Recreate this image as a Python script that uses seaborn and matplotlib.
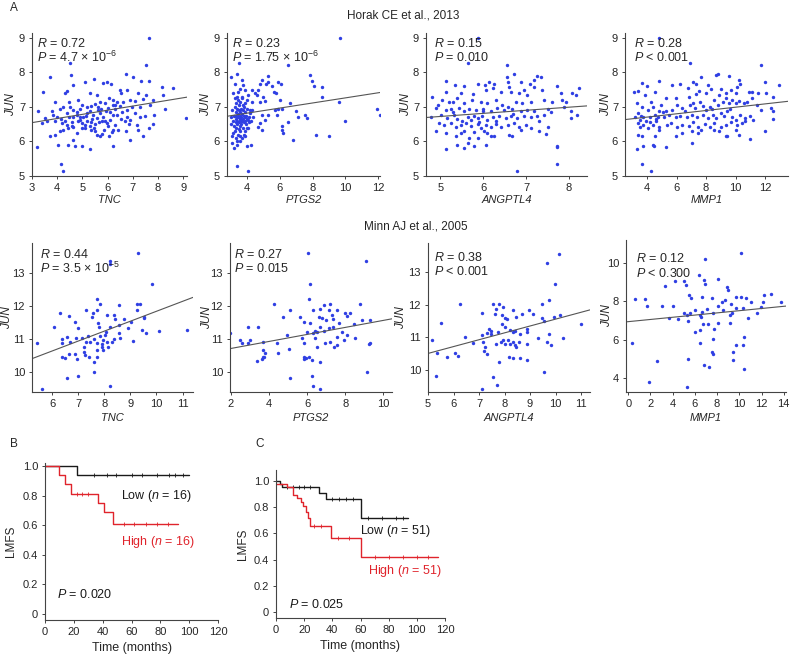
import matplotlib
matplotlib.use("Agg")
import matplotlib.pyplot as plt
import numpy as np
import pandas as pd
import seaborn as sns

# ---- data ----
horak_tnc = [
    (7.65, 9.0), (4.51, 8.28), (7.52, 8.2), (3.71, 7.87), (4.55, 7.92), (5.46, 7.81), (6.73, 7.95), (7.02, 7.87),
    (7.32, 7.75), (7.65, 7.75), (5.1, 7.73), (5.8, 7.68), (5.99, 7.73), (6.12, 7.66), (8.14, 7.58), (8.6, 7.54),
    (4.64, 7.63), (4.37, 7.46), (4.31, 7.39), (3.42, 7.44), (7.21, 7.39), (7.54, 7.34), (8.2, 7.34), (6.75, 7.49),
    (6.49, 7.49), (6.55, 7.39), (3.91, 7.15), (4.48, 7.15), (4.84, 7.2), (5.3, 7.39), (5.56, 7.34), (5.69, 7.15),
    (6.07, 7.25), (6.2, 7.2), (6.36, 7.15), (6.62, 7.15), (6.88, 7.2), (7.08, 7.18), (7.41, 7.23), (7.81, 7.2),
    (8.27, 6.94), (3.25, 6.87), (3.78, 6.89), (4.11, 6.93), (4.24, 6.99), (4.51, 7.01), (4.64, 6.91), (4.9, 6.93),
    (5.17, 6.99), (5.36, 7.03), (5.5, 7.09), (5.63, 7.01), (5.89, 7.11), (6.03, 6.96), (6.29, 7.06), (6.49, 7.03),
    (6.75, 6.91), (6.95, 6.99), (7.28, 7.01), (7.68, 7.06), (3.52, 6.67), (3.85, 6.77), (4.0, 6.72), (4.14, 6.65),
    (4.37, 6.82), (4.61, 6.7), (4.77, 6.77), (4.9, 6.63), (5.03, 6.7), (5.17, 6.82), (5.3, 6.87), (5.43, 6.77),
    (5.56, 6.67), (5.69, 6.82), (5.8, 6.7), (5.93, 6.87), (6.09, 6.63), (6.22, 6.77), (6.38, 6.77), (6.59, 6.84),
    (6.75, 6.7), (6.88, 6.63), (7.08, 6.82), (7.28, 6.72), (7.48, 6.74), (7.84, 6.77), (9.13, 6.67), (3.38, 6.53),
    (3.58, 6.58), (3.91, 6.58), (4.18, 6.53), (4.4, 6.48), (4.57, 6.45), (4.84, 6.58), (4.97, 6.53), (5.1, 6.48),
    (5.36, 6.55), (5.5, 6.51), (5.76, 6.58), (5.96, 6.53), (6.29, 6.48), (6.69, 6.58), (6.86, 6.51), (7.15, 6.48),
    (7.81, 6.51), (3.71, 6.15), (3.91, 6.2), (4.24, 6.34), (4.44, 6.39), (4.64, 6.42), (4.77, 6.24), (4.97, 6.39),
    (5.1, 6.39), (5.36, 6.34), (5.5, 6.29), (5.56, 6.2), (5.76, 6.22), (5.85, 6.34), (6.07, 6.17), (6.16, 6.26),
    (6.42, 6.32), (6.71, 6.29), (7.21, 6.34), (7.65, 6.39), (7.41, 6.15), (5.69, 6.17), (6.22, 6.34), (4.11, 6.29),
    (4.64, 6.05), (3.18, 5.83), (4.04, 5.91), (4.44, 5.91), (4.7, 5.86), (4.97, 5.88), (5.3, 5.77), (6.2, 5.86),
    (6.88, 6.05), (4.14, 5.35), (4.24, 5.14), (5.2, 6.6), (5.4, 6.65), (5.6, 6.9), (5.9, 6.6), (6.1, 6.85),
    (4.8, 6.85), (5.0, 7.05), (5.3, 6.45), (6.0, 6.45), (4.3, 6.6), (4.6, 6.55), (5.15, 6.75), (5.75, 6.95),
    (6.3, 6.95), (6.55, 6.65), (5.45, 6.4), (4.9, 6.7), (5.65, 6.55), (6.2, 7.05), (4.45, 6.7),
]

horak_ptgs2 = [
    (9.68, 9.0), (3.51, 8.28), (6.53, 8.2), (3.37, 7.95), (3.02, 7.87), (7.85, 7.92), (7.99, 7.76), (8.11, 7.6),
    (8.56, 7.57), (8.56, 7.3), (9.62, 7.13), (11.92, 6.93), (12.09, 6.76), (9.99, 6.58), (8.2, 6.19), (9.01, 6.17),
    (6.83, 6.05), (6.22, 6.24), (6.12, 6.44), (6.49, 6.55), (7.1, 6.7), (6.97, 6.87), (7.54, 6.78), (7.64, 6.67),
    (6.63, 7.11), (6.02, 7.2), (5.91, 7.73), (6.08, 7.66), (5.3, 7.89), (5.26, 7.73), (5.14, 7.66), (5.51, 7.6),
    (5.67, 7.44), (5.75, 7.39), (4.9, 7.79), (4.8, 7.66), (4.69, 7.49), (4.49, 7.39), (4.29, 7.49), (4.59, 7.34),
    (5.0, 7.3), (5.1, 7.18), (4.8, 7.15), (4.29, 7.15), (4.08, 7.34), (3.88, 7.5), (3.78, 7.63), (3.67, 7.78),
    (3.27, 7.66), (3.57, 7.52), (3.47, 7.44), (3.16, 7.39), (3.37, 7.3), (3.67, 7.3), (3.98, 7.2), (3.78, 7.06),
    (5.71, 6.91), (5.91, 6.93), (6.16, 6.94), (5.81, 6.77), (4.9, 6.77), (5.1, 6.63), (4.8, 6.53), (4.69, 6.42),
    (4.9, 6.34), (6.12, 6.34), (5.3, 6.77), (4.39, 6.72), (4.33, 6.91), (4.18, 6.82), (4.08, 6.63), (3.98, 6.39),
    (3.88, 6.15), (3.98, 5.86), (4.24, 5.91), (3.37, 5.29), (4.04, 5.14), (3.08, 5.96), (3.2, 5.81), (3.37, 5.91),
    (3.06, 6.15), (3.1, 6.9), (3.15, 6.6), (3.2, 6.75), (3.2, 6.45), (3.25, 7.0), (3.25, 6.3), (3.3, 6.85),
    (3.3, 6.55), (3.3, 6.65), (3.35, 6.75), (3.35, 6.4), (3.35, 7.1), (3.4, 6.95), (3.4, 6.6), (3.4, 6.5),
    (3.45, 6.8), (3.45, 6.7), (3.45, 6.2), (3.5, 6.9), (3.5, 6.55), (3.5, 6.35), (3.5, 7.05), (3.55, 6.65),
    (3.55, 6.75), (3.55, 6.45), (3.6, 6.85), (3.6, 6.6), (3.6, 7.15), (3.6, 6.3), (3.65, 6.7), (3.65, 6.5),
    (3.65, 6.95), (3.7, 6.8), (3.7, 6.6), (3.7, 6.1), (3.75, 6.65), (3.75, 6.9), (3.75, 6.4), (3.8, 6.75),
    (3.8, 6.55), (3.8, 7.0), (3.85, 6.7), (3.85, 6.3), (3.9, 6.6), (3.9, 6.85), (3.95, 6.5), (3.95, 6.75),
    (4.0, 6.65), (4.0, 6.95), (4.05, 6.4), (4.1, 6.7), (4.15, 6.55), (3.15, 6.25), (3.3, 6.1), (3.4, 6.0),
    (3.55, 6.15), (3.25, 7.25), (3.45, 7.2), (3.7, 7.25), (3.9, 7.1), (3.05, 6.5), (3.05, 6.7), (3.6, 6.0),
    (3.8, 6.2), (4.2, 6.9), (4.25, 6.6), (3.5, 6.7), (3.65, 6.6), (3.4, 6.7), (3.6, 6.7),
]

horak_angptl4 = [
    (5.87, 9.0), (5.64, 8.28), (6.55, 8.2), (6.72, 7.95), (6.55, 7.87), (7.26, 7.9), (7.34, 7.87), (5.13, 7.76),
    (6.57, 7.73), (6.14, 7.73), (6.88, 7.73), (7.19, 7.78), (5.34, 7.63), (5.56, 7.6), (5.87, 7.66), (6.04, 7.63),
    (6.26, 7.66), (6.6, 7.58), (7.1, 7.66), (7.73, 7.6), (8.23, 7.54), (8.08, 7.41), (8.16, 7.34), (7.81, 7.39),
    (7.38, 7.49), (7.19, 7.58), (5.13, 7.44), (5.48, 7.39), (5.77, 7.37), (6.06, 7.49), (6.22, 7.54), (6.41, 7.44),
    (6.66, 7.44), (6.84, 7.39), (6.95, 7.49), (7.03, 7.34), (4.82, 7.3), (5.05, 7.2), (5.21, 7.15), (5.31, 7.15),
    (5.4, 7.25), (5.56, 7.11), (5.75, 7.2), (5.95, 7.15), (6.1, 7.12), (6.29, 7.2), (6.44, 7.06), (6.76, 7.15),
    (6.91, 7.11), (7.11, 7.15), (7.42, 7.2), (7.61, 7.15), (7.84, 7.2), (7.92, 7.15), (7.88, 7.01), (4.94, 7.06),
    (4.9, 6.96), (5.13, 6.91), (5.25, 6.93), (5.44, 6.96), (5.55, 6.87), (5.67, 6.93), (5.83, 6.91), (5.99, 6.87),
    (6.18, 6.89), (6.33, 6.96), (6.49, 6.91), (6.57, 6.99), (6.68, 6.93), (6.88, 6.87), (7.03, 6.91), (7.19, 6.89),
    (7.5, 6.93), (8.04, 6.87), (8.19, 6.77), (8.04, 6.67), (4.78, 6.72), (5.02, 6.77), (5.17, 6.67), (5.33, 6.77),
    (5.4, 6.65), (5.64, 6.72), (5.71, 6.63), (5.79, 6.74), (5.87, 6.67), (5.98, 6.74), (6.1, 6.63), (6.22, 6.7),
    (6.37, 6.74), (6.53, 6.67), (6.64, 6.74), (6.8, 6.67), (6.95, 6.74), (7.11, 6.7), (7.26, 6.74), (7.42, 6.77),
    (7.57, 6.84), (4.98, 6.53), (5.09, 6.48), (5.25, 6.53), (5.36, 6.43), (5.48, 6.48), (5.6, 6.53), (5.71, 6.45),
    (5.87, 6.51), (5.95, 6.39), (6.06, 6.48), (6.18, 6.43), (6.29, 6.51), (6.41, 6.42), (6.57, 6.48), (6.72, 6.53),
    (6.84, 6.43), (6.99, 6.48), (7.11, 6.39), (7.3, 6.58), (7.5, 6.43), (4.9, 6.29), (5.13, 6.24), (5.36, 6.15),
    (5.48, 6.24), (5.56, 6.29), (5.67, 6.1), (5.79, 6.26), (5.87, 6.1), (6.02, 6.29), (6.1, 6.24), (6.18, 6.17),
    (6.26, 6.15), (6.6, 6.2), (6.68, 6.17), (6.88, 6.34), (7.3, 6.29), (7.46, 6.22), (5.4, 5.91), (5.64, 5.96),
    (5.79, 5.86), (5.56, 5.81), (6.06, 5.91), (5.13, 5.78), (7.73, 5.86), (7.72, 5.84), (7.73, 5.35), (6.78, 5.14),
    (5.5, 6.6), (5.9, 6.55), (6.3, 6.6), (6.0, 6.95), (5.3, 6.85), (6.7, 6.8),
]

horak_mmp1 = [
    (4.79, 9.0), (6.92, 8.28), (11.76, 8.2), (8.79, 7.95), (8.68, 7.92), (9.56, 7.9), (7.69, 7.87), (3.63, 7.7),
    (4.84, 7.76), (3.96, 7.6), (5.66, 7.63), (6.2, 7.66), (7.09, 7.73), (6.77, 7.54), (7.32, 7.66), (8.13, 7.63),
    (10.22, 7.79), (10.33, 7.66), (11.98, 7.73), (12.93, 7.63), (3.08, 7.44), (3.41, 7.47), (4.51, 7.44),
    (3.85, 7.34), (5.27, 7.25), (5.93, 7.25), (6.81, 7.3), (7.32, 7.37), (7.54, 7.47), (7.98, 7.41), (8.35, 7.51),
    (8.9, 7.34), (9.01, 7.52), (9.34, 7.41), (9.72, 7.49), (10.0, 7.39), (10.11, 7.58), (10.88, 7.44), (11.1, 7.44),
    (11.54, 7.39), (12.09, 7.39), (12.53, 7.3), (3.3, 7.1), (3.63, 7.01), (4.29, 7.15), (4.4, 7.01), (4.95, 7.06),
    (5.27, 6.87), (5.71, 6.91), (6.04, 7.06), (6.37, 6.96), (6.59, 6.87), (6.92, 7.06), (7.14, 7.11), (7.25, 6.96),
    (7.58, 7.15), (7.8, 7.03), (8.02, 6.91), (8.24, 6.99), (8.57, 7.2), (8.79, 7.06), (9.12, 7.15), (9.34, 7.25),
    (9.56, 7.11), (9.78, 7.2), (10.0, 7.11), (10.22, 7.18), (10.55, 7.11), (10.77, 7.15), (11.1, 7.25),
    (11.43, 7.06), (11.76, 6.91), (12.42, 6.96), (12.53, 6.87), (3.19, 6.72), (3.41, 6.82), (3.52, 6.63),
    (3.74, 6.7), (4.07, 6.91), (4.18, 6.7), (4.51, 6.77), (4.73, 6.7), (4.84, 6.87), (5.05, 6.84), (5.16, 6.7),
    (5.49, 6.77), (5.93, 6.7), (6.26, 6.74), (6.7, 6.7), (7.03, 6.77), (7.36, 6.7), (7.8, 6.77), (8.13, 6.67),
    (8.46, 6.77), (8.68, 6.67), (9.01, 6.82), (9.23, 6.74), (9.45, 6.87), (9.78, 6.72), (10.0, 6.63), (10.33, 6.77),
    (10.66, 6.67), (10.99, 6.74), (11.21, 6.63), (12.57, 6.65), (3.41, 6.53), (3.52, 6.43), (3.74, 6.48),
    (4.07, 6.39), (4.4, 6.48), (4.62, 6.58), (4.84, 6.42), (5.38, 6.48), (5.6, 6.53), (6.04, 6.43), (6.37, 6.48),
    (6.81, 6.45), (7.14, 6.55), (7.47, 6.43), (7.91, 6.51), (8.24, 6.43), (8.57, 6.53), (9.01, 6.43), (9.34, 6.48),
    (9.67, 6.55), (10.11, 6.48), (10.44, 6.53), (10.66, 6.58), (3.36, 6.2), (3.63, 6.15), (4.51, 6.17),
    (4.84, 6.34), (5.93, 6.17), (6.37, 6.24), (7.03, 6.29), (7.47, 6.24), (7.69, 6.34), (8.57, 6.34), (8.9, 6.29),
    (9.34, 6.15), (9.45, 6.17), (10.0, 6.34), (10.22, 6.2), (10.95, 6.07), (11.98, 6.29), (7.07, 5.96),
    (5.27, 5.83), (3.74, 5.86), (3.3, 5.77), (4.4, 5.91), (4.44, 5.86), (3.63, 5.35), (4.26, 5.14),
    (3.9, 6.6), (4.2, 6.55), (3.6, 6.75), (4.6, 6.65), (8.4, 6.95), (9.6, 6.95),
]

minn_tnc = [
    (9.28, 13.59), (8.23, 13.36), (8.23, 13.28), (9.81, 12.67), (7.72, 12.21), (7.82, 12.06), (9.26, 12.06),
    (9.36, 12.06), (8.56, 12.02), (7.74, 11.88), (7.31, 11.88), (6.31, 11.78), (6.63, 11.71), (7.56, 11.78),
    (7.53, 11.66), (8.1, 11.73), (8.36, 11.73), (8.42, 11.6), (8.77, 11.6), (9.26, 11.88), (9.51, 11.66),
    (9.54, 11.63), (6.88, 11.5), (7.0, 11.32), (6.08, 11.35), (7.76, 11.47), (7.79, 11.37), (8.05, 11.22),
    (8.21, 11.35), (8.56, 11.42), (8.9, 11.32), (9.03, 11.52), (9.46, 11.27), (9.59, 11.17), (10.09, 11.25),
    (11.18, 11.27), (5.44, 10.89), (6.37, 10.89), (6.69, 10.92), (6.92, 11.02), (7.14, 11.04), (7.36, 11.08),
    (7.31, 10.92), (7.46, 10.92), (7.62, 10.99), (7.72, 10.89), (7.82, 11.08), (7.91, 10.84), (7.97, 10.97),
    (8.04, 11.12), (8.1, 10.92), (7.91, 10.76), (8.13, 10.76), (8.3, 10.92), (8.36, 10.99), (8.55, 11.17),
    (8.62, 11.02), (9.1, 10.95), (6.37, 10.46), (6.49, 10.44), (6.63, 10.56), (6.88, 10.56), (6.95, 10.41),
    (7.21, 10.61), (7.27, 10.51), (7.4, 10.46), (7.72, 10.46), (7.59, 10.3), (7.74, 10.66), (7.97, 10.66),
    (6.37, 11.0), (7.59, 10.0), (6.59, 9.83), (7.0, 9.87), (5.6, 9.49), (8.21, 9.59), (7.21, 10.76), (6.56, 11.07),
]

minn_ptgs2 = [
    (6.02, 13.59), (9.09, 13.35), (6.16, 12.67), (6.07, 12.21), (4.26, 12.06), (6.89, 12.02), (7.21, 12.06),
    (8.79, 12.06), (5.11, 11.88), (6.33, 11.88), (6.68, 11.9), (7.12, 11.88), (7.56, 11.88), (8.0, 11.78),
    (8.09, 11.7), (8.26, 11.78), (6.6, 11.68), (6.77, 11.63), (7.3, 11.73), (7.35, 11.6), (4.72, 11.66),
    (5.63, 11.66), (5.84, 11.52), (6.16, 11.49), (7.0, 11.56), (7.65, 11.47), (8.44, 11.45), (8.88, 11.58),
    (9.28, 11.58), (2.91, 11.37), (3.44, 11.37), (5.98, 11.22), (6.3, 11.19), (6.42, 11.25), (6.54, 11.22),
    (6.68, 11.37), (6.86, 11.25), (7.12, 11.32), (7.35, 11.35), (7.82, 11.22), (8.09, 11.12), (8.53, 11.02),
    (1.95, 11.19), (2.47, 10.97), (2.56, 10.89), (2.91, 10.87), (3.0, 10.97), (3.7, 10.91), (4.4, 10.87),
    (4.96, 11.12), (5.72, 11.02), (5.81, 10.89), (6.42, 11.04), (6.51, 10.76), (6.95, 10.89), (7.21, 10.91),
    (7.39, 10.76), (7.56, 10.81), (7.91, 10.97), (7.56, 11.05), (9.23, 10.84), (9.32, 10.89), (5.07, 10.71),
    (3.7, 10.66), (3.79, 10.58), (3.67, 10.46), (3.61, 10.41), (3.74, 10.46), (3.39, 10.33), (5.81, 10.46),
    (5.81, 10.41), (5.95, 10.44), (6.12, 10.46), (4.49, 10.58), (6.25, 10.36), (6.68, 10.3), (9.14, 10.0),
    (5.11, 9.83), (6.25, 9.87), (6.33, 9.59), (6.65, 9.49),
]

minn_angptl4 = [
    (10.15, 13.54), (9.65, 13.28), (9.98, 12.62), (6.25, 12.01), (7.54, 12.01), (7.8, 12.01), (9.76, 12.16),
    (9.46, 12.01), (5.5, 11.44), (7.1, 11.75), (7.67, 11.88), (7.93, 11.93), (7.64, 11.73), (7.9, 11.68),
    (8.03, 11.61), (8.1, 11.55), (8.35, 11.83), (8.45, 11.63), (8.67, 11.73), (8.97, 11.83), (9.13, 11.73),
    (9.46, 11.58), (9.55, 11.5), (9.92, 11.63), (10.18, 11.68), (7.41, 11.27), (7.46, 11.2), (7.3, 11.14),
    (7.48, 11.12), (7.76, 11.17), (7.89, 11.4), (8.02, 11.32), (8.22, 11.24), (8.32, 11.17), (8.41, 11.2),
    (8.61, 11.1), (8.87, 11.27), (8.87, 11.17), (9.76, 11.12), (6.45, 11.0), (6.78, 10.83), (7.1, 11.07),
    (7.17, 10.86), (7.24, 10.71), (7.2, 10.59), (7.33, 10.49), (7.67, 10.81), (7.85, 10.86), (7.95, 10.91),
    (8.02, 10.79), (8.15, 10.91), (8.22, 10.79), (8.32, 10.86), (8.41, 10.76), (8.45, 10.71), (8.58, 10.86),
    (8.87, 10.81), (9.33, 10.97), (9.65, 10.86), (9.81, 10.76), (10.28, 10.97), (11.0, 11.4), (5.14, 10.93),
    (5.37, 10.51), (5.73, 10.39), (6.06, 10.51), (6.19, 10.43), (7.77, 10.25), (8.18, 10.41), (8.35, 10.36),
    (8.61, 10.36), (8.9, 10.32), (9.54, 9.95), (5.31, 9.82), (7.56, 9.78), (7.69, 9.54), (7.1, 9.41),
]

minn_mmp1 = [
    (10.12, 10.52), (6.87, 10.22), (0.59, 8.1), (1.47, 8.1), (1.68, 7.75), (3.04, 7.75), (3.33, 8.79), (4.04, 7.75),
    (3.63, 7.11), (4.51, 7.06), (4.22, 9.07), (4.99, 9.07), (5.16, 8.84), (5.63, 8.2), (5.46, 8.32), (6.34, 9.36),
    (6.78, 9.1), (6.87, 8.93), (6.64, 8.24), (7.58, 8.2), (8.11, 9.15), (8.41, 7.98), (8.7, 8.06), (8.85, 8.75),
    (9.0, 8.58), (9.29, 7.85), (9.73, 8.24), (10.18, 8.24), (10.62, 8.2), (11.06, 7.98), (12.24, 8.32),
    (12.83, 8.37), (13.72, 7.98), (12.09, 7.98), (11.95, 7.72), (11.59, 7.4), (10.77, 7.11), (10.32, 7.63),
    (9.73, 7.63), (9.35, 7.37), (9.14, 7.28), (8.55, 7.54), (8.05, 7.75), (7.67, 7.37), (7.08, 7.58), (6.64, 7.46),
    (6.49, 7.28), (6.05, 7.54), (5.52, 7.4), (5.31, 7.28), (5.01, 7.37), (6.52, 7.16), (5.4, 6.99), (6.7, 6.82),
    (7.17, 6.82), (8.11, 6.89), (9.14, 6.85), (5.99, 6.42), (6.49, 6.5), (7.76, 6.54), (10.41, 6.16), (6.49, 5.81),
    (7.67, 6.02), (0.38, 5.85), (9.73, 5.73), (10.32, 5.73), (7.52, 5.38), (7.67, 5.26), (9.44, 5.38), (5.4, 4.98),
    (9.44, 4.95), (6.78, 4.69), (7.23, 4.57), (2.6, 4.9), (1.86, 3.77), (5.25, 3.53), (10.41, 4.46),
]

# correlation labels and fitted lines (intercept, slope) as drawn in the figure
genes = ["TNC", "PTGS2", "ANGPTL4", "MMP1"]
horak_r = ["0.72", "0.23", "0.15", "0.28"]
horak_p = [r"= 4.7 × 10$^{−6}$", r"= 1.75 × 10$^{−6}$", "= 0.010", "< 0.001"]
minn_r = ["0.44", "0.27", "0.38", "0.12"]
minn_p = [r"= 3.5 × 10$^{−5}$", "= 0.015", "< 0.001", "< 0.300"]
horak_fit = [(6.185, 0.12), (6.524, 0.0737), (6.276, 0.0895), (6.514, 0.0478)]
minn_fit = [(8.838, 0.30), (10.503, 0.106), (9.46, 0.21), (6.94, 0.0572)]

# Kaplan-Meier curves
b_low_t = [0, 22, 100]
b_low_s = [1.0, 0.9375, 0.9375]
b_high_t = [0, 10, 14, 18, 37, 41, 47, 92]
b_high_s = [1.0, 0.9375, 0.875, 0.8125, 0.75, 0.6875, 0.611, 0.611]
b_low_cens = [34, 43, 49, 60, 67, 78, 86, 90, 96]
b_high_cens = [22, 26, 30, 55, 62, 70, 78, 85]
c_low_t = [0, 2.8, 4.5, 30.6, 35.5, 60.1, 93.8]
c_low_s = [1.0, 0.98, 0.955, 0.908, 0.862, 0.718, 0.718]
c_high_t = [0, 7.6, 11.8, 14.7, 17.6, 19.5, 21.3, 22.5, 24.1, 38.8, 60.1, 115]
c_high_s = [0.98, 0.955, 0.893, 0.87, 0.84, 0.81, 0.766, 0.715, 0.659, 0.562, 0.422, 0.422]
c_low_cens = [8, 12, 16, 20, 24, 40, 45, 50, 55, 65, 75, 85, 90]
c_high_cens = [27, 32, 44, 52, 70, 80, 90, 100, 108]

# ---- styling ----
sns.set_style("ticks")
plt.rcParams["font.family"] = ["Liberation Sans", "DejaVu Sans"]
plt.rcParams["mathtext.fontset"] = "custom"
plt.rcParams["mathtext.rm"] = "Liberation Sans"
plt.rcParams["mathtext.it"] = "Liberation Sans:italic"
plt.rcParams["axes.unicode_minus"] = True

DOT = "#2f3fe3"
RED = "#e0242c"
INK = "#1a1a1a"
SPINE = "#444444"
W, H = 793, 655


def rect(left, top, right, bottom):
    return [left / W, 1 - bottom / H, (right - left) / W, (bottom - top) / H]


def style_axes(ax, fs=8):
    sns.despine(ax=ax)
    for s in ("left", "bottom"):
        ax.spines[s].set_color(SPINE)
        ax.spines[s].set_linewidth(0.8)
    ax.tick_params(length=2.5, width=0.7, color=SPINE, labelsize=fs, pad=2.5)


fig = plt.figure(figsize=(7.93, 6.55), dpi=100)

top_rects = [(32, 33, 187, 176), (227, 33, 380, 176), (426, 33, 587, 176), (625, 33, 788, 176)]
top_xlim = [(3, 9.15), (2.78, 12.12), (4.67, 8.42), (2.5, 13.56)]
top_xticks = [range(3, 10), range(4, 13, 2), range(5, 9), range(4, 13, 2)]
top_ylab_x = [-0.095, -0.095, -0.088, -0.08]
top_text_x = [0.03, 0.03, 0.05, 0.055]

bot_rects = [(32, 243, 193, 392), (230, 243, 392, 392), (428, 243, 590, 392), (626, 240, 786, 392)]
bot_xlim = [(5.23, 11.4), (1.95, 10.45), (5.0, 11.35), (-0.2, 14.2)]
bot_ylim = [(9.4, 13.9), (9.4, 13.9), (9.33, 13.89), (3.27, 11.2)]
bot_xticks = [range(6, 12), range(2, 11, 2), range(5, 12), range(0, 15, 2)]
bot_yticks = [range(10, 14), range(10, 14), range(10, 14), range(4, 11, 2)]
bot_ylab_x = [-0.115, -0.107, -0.127, -0.08]
bot_text_x = [0.05, 0.025, 0.04, 0.06]
bot_text_y = [(0.926, 0.83), (0.926, 0.83), (0.9, 0.81), (0.88, 0.78)]

horak_sets = [horak_tnc, horak_ptgs2, horak_angptl4, horak_mmp1]
minn_sets = [minn_tnc, minn_ptgs2, minn_angptl4, minn_mmp1]


def scatter_panel(ax, pts, fit, xlim, ylim, xticks, yticks, gene, ylab_x, xlab_y, r, p, tx, ty):
    df = pd.DataFrame(pts, columns=["x", "y"])
    sns.scatterplot(data=df, x="x", y="y", ax=ax, color=DOT, s=6, linewidth=0)
    xs = np.array(xlim)
    sns.lineplot(x=xs, y=fit[0] + fit[1] * xs, ax=ax, color="#555555", lw=0.8)
    ax.set_xlim(*xlim)
    ax.set_ylim(*ylim)
    ax.set_xticks(list(xticks))
    ax.set_yticks(list(yticks))
    ax.set_xlabel(gene, fontstyle="italic", fontsize=8)
    ax.set_ylabel("JUN", fontstyle="italic", fontsize=8.5)
    ax.xaxis.set_label_coords(0.5, xlab_y)
    ax.yaxis.set_label_coords(ylab_x, 0.5)
    ax.text(tx, ty[0], "$R$ = " + r, transform=ax.transAxes, fontsize=9, va="center")
    ax.text(tx, ty[1], "$P$ " + p, transform=ax.transAxes, fontsize=9, va="center")
    style_axes(ax)


for i in range(4):
    ax = fig.add_axes(rect(*top_rects[i]))
    scatter_panel(ax, horak_sets[i], horak_fit[i], top_xlim[i], (5, 9.14), top_xticks[i], range(5, 10),
                  genes[i], top_ylab_x[i], -0.13, horak_r[i], horak_p[i], top_text_x[i], (0.93, 0.83))

for i in range(4):
    ax = fig.add_axes(rect(*bot_rects[i]))
    scatter_panel(ax, minn_sets[i], minn_fit[i], bot_xlim[i], bot_ylim[i], bot_xticks[i], bot_yticks[i],
                  genes[i], bot_ylab_x[i], -0.14, minn_r[i], minn_p[i], bot_text_x[i], bot_text_y[i])


def surv_at(times, surv, pts):
    idx = np.searchsorted(times, pts, side="right") - 1
    return np.array(surv)[idx]


def km_panel(ax, curves, texts, ylim, xlab_y):
    for t, s, cens, col in curves:
        sns.lineplot(x=t, y=s, ax=ax, drawstyle="steps-post", color=col, lw=1.0, estimator=None)
        ax.plot(cens, surv_at(t, s, cens), ls="none", marker="|", ms=3, mew=0.6, color=col)
    for x, y, txt, col in texts:
        ax.text(x, y, txt, color=col, fontsize=9, va="center")
    ax.set_xlim(0, 120)
    ax.set_ylim(*ylim)
    ax.set_xticks(range(0, 121, 20))
    ax.set_yticks([0, 0.2, 0.4, 0.6, 0.8, 1.0])
    ax.set_yticklabels(["0", "0.2", "0.4", "0.6", "0.8", "1.0"])
    ax.set_xlabel("Time (months)", fontsize=9)
    ax.set_ylabel("LMFS", fontsize=8.5)
    ax.xaxis.set_label_coords(0.5, xlab_y)
    ax.yaxis.set_label_coords(-0.16, 0.5)
    style_axes(ax)


axb = fig.add_axes(rect(45, 463, 218, 620))
km_panel(axb,
         [(b_low_t, b_low_s, b_low_cens, INK), (b_high_t, b_high_s, b_high_cens, RED)],
         [(53, 0.80, "Low ($n$ = 16)", INK), (53, 0.49, "High ($n$ = 16)", RED),
          (8, 0.135, "$P$ = 0.020", INK)],
         (-0.04, 1.02), -0.14)

axc = fig.add_axes(rect(276, 470, 445, 618))
km_panel(axc,
         [(c_low_t, c_low_s, c_low_cens, INK), (c_high_t, c_high_s, c_high_cens, RED)],
         [(60, 0.62, "Low ($n$ = 51)", INK), (65, 0.31, "High ($n$ = 51)", RED),
          (9, 0.06, "$P$ = 0.025", INK)],
         (-0.046, 1.084), -0.15)

fig.text(10 / W, 1 - 8 / H, "A", fontsize=8.5, va="center")
fig.text(10 / W, 1 - 444 / H, "B", fontsize=8.5, va="center")
fig.text(255 / W, 1 - 444 / H, "C", fontsize=8.5, va="center")
fig.text(403 / W, 1 - 15 / H, "Horak CE et al., 2013", fontsize=8.5, ha="center", va="center")
fig.text(416 / W, 1 - 227 / H, "Minn AJ et al., 2005", fontsize=8.5, ha="center", va="center")

fig.savefig("out.png", dpi=100)
